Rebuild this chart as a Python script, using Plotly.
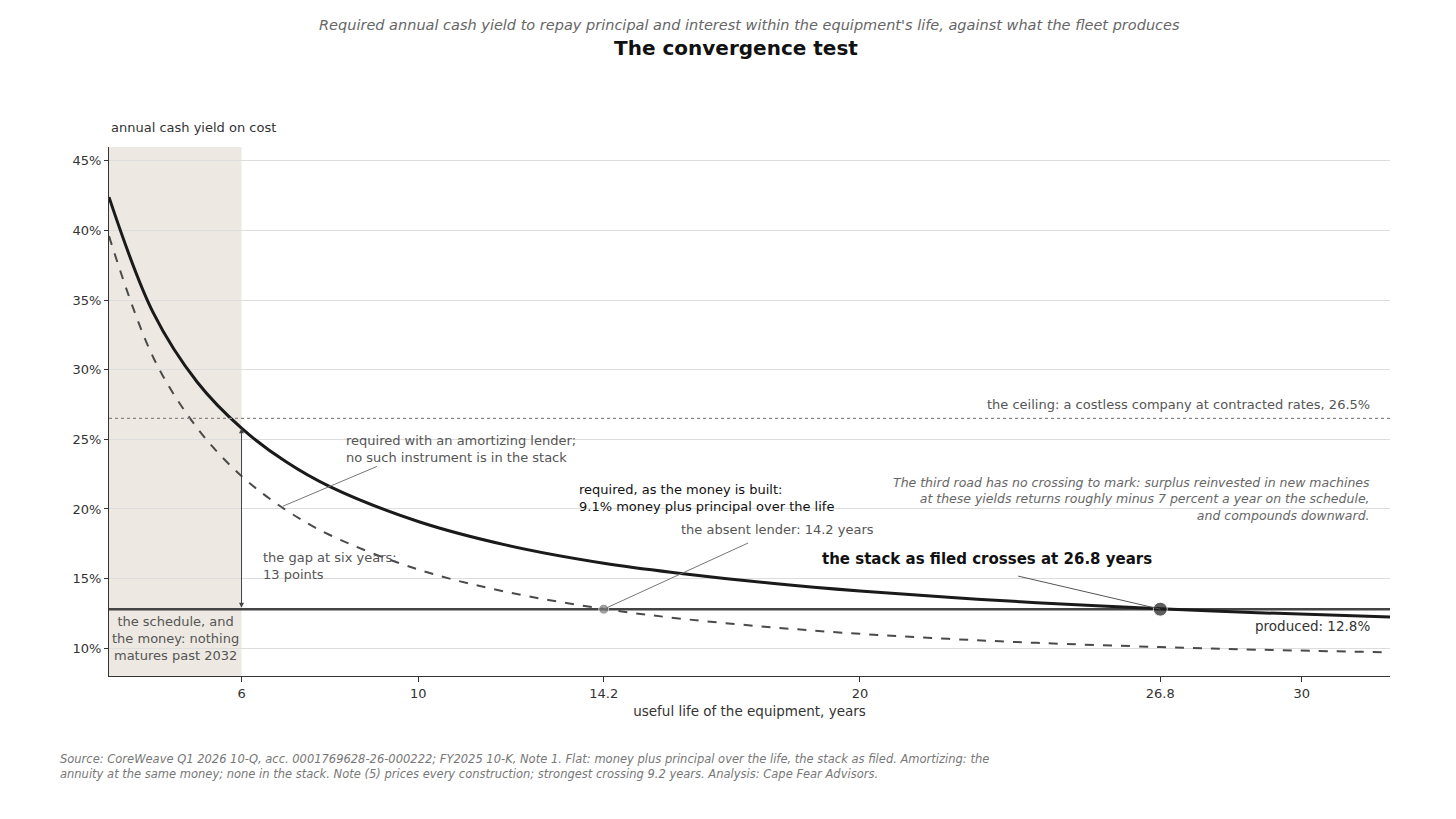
import plotly.graph_objects as go

# useful life (years) and required yields (%)
life = [3, 4, 5, 6, 7, 8, 10, 12, 14.2, 16, 18, 20, 22, 24, 26.8, 29, 32]
flat_required = [42.4, 34.1, 29.1, 25.8, 23.4, 21.6, 19.1, 17.4, 16.1, 15.35, 14.66,
                 14.1, 13.65, 13.27, 12.83, 12.55, 12.23]
amort_required = [39.6, 30.9, 25.8, 22.36, 19.94, 18.13, 15.65, 14.04, 12.82, 12.10,
                  11.50, 11.03, 10.67, 10.38, 10.08, 9.89, 9.70]
produced = 12.8
ceiling = 26.5
schedule_end = 6
crossings = [14.2, 26.8]
tick_vals = [6, 10, 14.2, 20, 26.8, 30]
tick_text = ["6", "10", "14.2", "20", "26.8", "30"]
y_ticks = [10, 15, 20, 25, 30, 35, 40, 45]
y_text = ["10%", "15%", "20%", "25%", "30%", "35%", "40%", "45%"]

FONT = "DejaVu Sans"
fig = go.Figure()

fig.add_shape(type="rect", x0=3, x1=schedule_end, y0=8, y1=46, fillcolor="#ede9e2",
              line_width=0, layer="below")
fig.add_hline(y=ceiling, line=dict(color="#888", width=1.3, dash="dot"))

fig.add_trace(go.Scatter(x=[3, 32], y=[produced, produced], mode="lines",
                         line=dict(color="#444", width=2.5), hoverinfo="skip"))
fig.add_trace(go.Scatter(x=life, y=amort_required, mode="lines", line_shape="spline",
                         line=dict(color="#4a4a4a", width=2, dash="dash")))
fig.add_trace(go.Scatter(x=life, y=flat_required, mode="lines", line_shape="spline",
                         line=dict(color="#1a1a1a", width=3)))
fig.add_trace(go.Scatter(x=crossings, y=[produced, produced], mode="markers",
                         marker=dict(color=["#777", "#1a1a1a"], size=[10, 14])))

# gap arrow at six years
fig.add_annotation(x=6, y=25.8, ax=6, ay=produced, axref="x", ayref="y", text="",
                   showarrow=True, arrowhead=2, arrowside="end+start", arrowsize=1,
                   arrowwidth=1, arrowcolor="#444")

g = "#555"
def note(x, y, text, color=g, size=13, xanchor="left", ax=None, ay=None, **kw):
    a = dict(x=x, y=y, text=text, font=dict(family=FONT, size=size, color=color),
             xanchor=xanchor, align=xanchor if xanchor != "center" else "center",
             showarrow=False)
    a.update(kw)
    fig.add_annotation(**a)

fig.add_annotation(x=6.94, y=20.2, ax=9.1, ay=23.1, axref="x", ayref="y", text="",
                   showarrow=True, arrowhead=0, arrowwidth=1, arrowcolor="#777")
note(8.32, 24.3, "required with an amortizing lender;<br>no such instrument is in the stack")
note(13.6, 20.8, "required, as the money is built:<br>9.1% money plus principal over the life",
     color="#111")
fig.add_annotation(x=14.2, y=produced, ax=17.5, ay=17.6, axref="x", ayref="y", text="",
                   showarrow=True, arrowhead=0, arrowwidth=1, arrowcolor="#777")
note(15.9, 18.5, "the absent lender: 14.2 years")
fig.add_annotation(x=26.8, y=produced, ax=23.55, ay=15.2, axref="x", ayref="y", text="",
                   showarrow=True, arrowhead=0, arrowwidth=1, arrowcolor="#555")
note(19.1, 16.4, "<b>the stack as filed crosses at 26.8 years</b>", color="#111", size=15)
note(31.6, 27.5, "the ceiling: a costless company at contracted rates, 26.5%", xanchor="right")
note(31.6, 20.7, "<i>The third road has no crossing to mark: surplus reinvested in new machines<br>"
     "at these yields returns roughly minus 7 percent a year on the schedule,<br>"
     "and compounds downward.</i>", xanchor="right", size=12.5, color="#666")
note(31.6, 11.6, "produced: 12.8%", xanchor="right", size=13.5, color="#333")
note(6.45, 15.9, "the gap at six years:<br>13 points")
note(4.5, 10.7, "the schedule, and<br>the money: nothing<br>matures past 2032", xanchor="center")

fig.add_annotation(xref="paper", yref="paper", x=0, y=1.055, text="annual cash yield on cost",
                   showarrow=False, xanchor="left", font=dict(family=FONT, size=13, color="#333"))
fig.add_annotation(xref="paper", yref="paper", x=-0.04, y=-0.14, xanchor="left", yanchor="top",
                   align="left", showarrow=False, font=dict(family=FONT, size=11.5, color="#777"),
                   text="<i>Source: CoreWeave Q1 2026 10-Q, acc. 0001769628-26-000222; FY2025 10-K, Note 1. "
                        "Flat: money plus principal over the life, the stack as filed. Amortizing: the<br>"
                        "annuity at the same money; none in the stack. Note (5) prices every construction; "
                        "strongest crossing 9.2 years. Analysis: Cape Fear Advisors.</i>")
fig.add_annotation(xref="paper", yref="paper", x=0.5, y=1.25, xanchor="center", showarrow=False,
                   font=dict(family=FONT, size=14.5, color="#666"),
                   text="<i>Required annual cash yield to repay principal and interest within the "
                        "equipment's life, against what the fleet produces</i>")

fig.update_layout(
    width=1456, height=819, plot_bgcolor="white", paper_bgcolor="white", showlegend=False,
    margin=dict(l=101, r=74, t=139, b=151),
    font=dict(family=FONT, size=13, color="#333"),
    title=dict(text="<b>The convergence test</b>", x=0.5, xanchor="center", y=0.96,
               yanchor="top", font=dict(family=FONT, size=20, color="#111")),
    xaxis=dict(range=[3, 32], tickvals=tick_vals, ticktext=tick_text, showgrid=False,
               showline=True, linecolor="#333", ticks="outside", ticklen=5, tickcolor="#333",
               title=dict(text="useful life of the equipment, years", standoff=6,
                          font=dict(size=13.5))),
    yaxis=dict(range=[8, 46], tickvals=y_ticks, ticktext=y_text,
               gridcolor="#ddd", showline=True, linecolor="#333", ticks="outside",
               ticklen=4, tickcolor="#333", zeroline=False),
)
fig.write_html("out.html")
